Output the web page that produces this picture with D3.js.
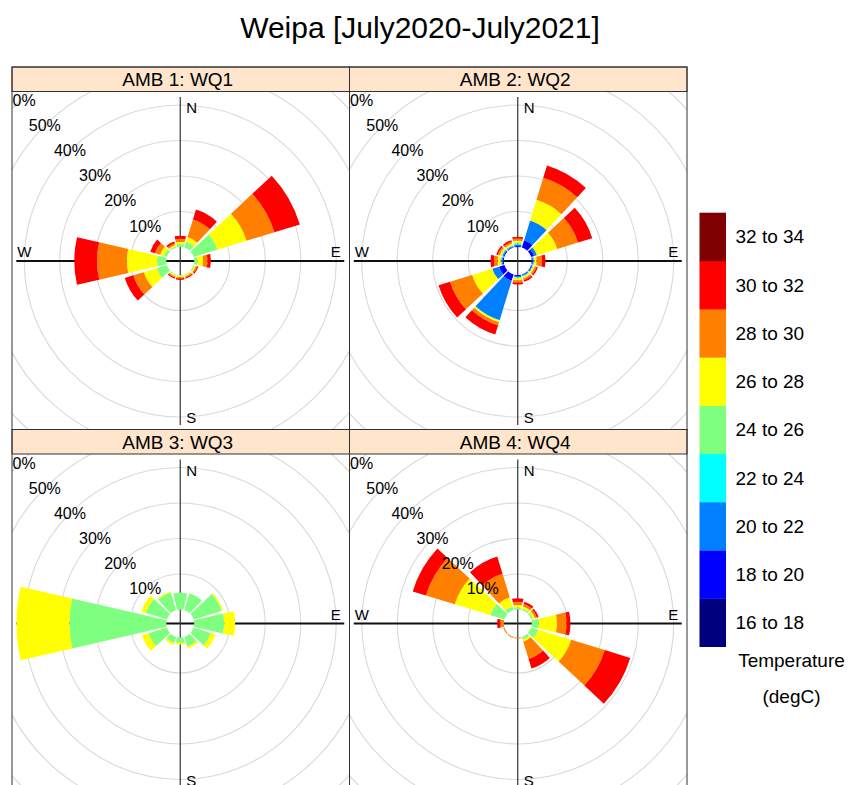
<!DOCTYPE html>
<html><head><meta charset="utf-8">
<script src="https://cdn.jsdelivr.net/npm/d3@7/dist/d3.min.js"></script>
<style>
body{margin:0;background:#fff}
svg{display:block;font-family:"Liberation Sans",Arial,Helvetica,sans-serif}
</style>
</head><body>
<svg id="chart" width="850" height="785"></svg>
<script>
// ---------- data ----------
const chartTitle = "Weipa [July2020-July2021]";
const panelNames = ["AMB 1: WQ1", "AMB 2: WQ2", "AMB 3: WQ3", "AMB 4: WQ4"];
const directions = [0, 30, 60, 90, 120, 150, 180, 210, 240, 270, 300, 330];
const compassLabels = ["N", "E", "S", "W"];
const classLabels = ["16 to 18", "18 to 20", "20 to 22", "22 to 24", "24 to 26", "26 to 28", "28 to 30", "30 to 32", "32 to 34"];
const classColors = ["#00007F", "#0000FF", "#007FFF", "#00FFFF", "#7FFF7F", "#FFFF00", "#FF7F00", "#FF0000", "#7F0000"];
const ringTicks = [10, 20, 30, 40, 50, 60, 70];
const legendTitle = ["Temperature", "(degC)"];

// frequency (%) per direction, per temperature class (16-18 ... 32-34)
const wq1 = [
  [0, 0, 0, 0, 0.85, 0.65, 0.8, 0.9, 0],
  [0, 0, 0, 0, 1.75, 1.35, 5.2, 2.9, 0],
  [0, 0, 0, 0, 7.0, 8.6, 8.2, 7.5, 0],
  [0, 0, 0, 0, 0.85, 1.65, 1.25, 0.95, 0],
  [0, 0, 0, 0, 0.3, 0.4, 0.35, 0.35, 0],
  [0, 0, 0, 0, 0.25, 0.35, 0.35, 0.35, 0],
  [0, 0, 0, 0, 0.25, 0.4, 0.35, 0.4, 0],
  [0, 0, 0, 0, 0.25, 0.35, 0.35, 0.35, 0],
  [0, 0, 0, 0, 3.0, 3.8, 3.1, 2.5, 0],
  [0, 0, 0, 0, 2.6, 8.5, 8.4, 6.4, 0],
  [0, 0, 0, 0, 0.8, 1.2, 1.5, 1.4, 0],
  [0, 0, 0, 0, 0.35, 0.45, 0.45, 0.55, 0]
];
const wq2 = [
  [0, 0.3, 0.4, 0.2, 0.4, 0.5, 0.6, 0.5, 0],
  [0, 2.2, 5.8, 0, 0, 6.1, 6.5, 3.6, 0],
  [0, 0.85, 0.85, 0, 0, 6.0, 6.1, 4.2, 0],
  [0, 0.3, 0.3, 0, 0.2, 0.6, 1.5, 1.0, 0],
  [0, 0.2, 0.3, 0, 0.2, 0.4, 0.5, 0.4, 0],
  [0, 0.2, 0.3, 0.1, 0.2, 0.4, 0.5, 0.5, 0],
  [0, 0.3, 0.4, 0, 0.3, 0.5, 0.6, 0.6, 0],
  [0, 1.9, 11.6, 0, 0.2, 0.4, 0.9, 2.7, 0],
  [0, 1.6, 2.0, 0, 0, 5.9, 6.5, 3.4, 0],
  [0, 0.3, 0.4, 0, 0.3, 0.75, 1.0, 1.0, 0],
  [0, 0.3, 0.3, 0.1, 0.3, 0.4, 0.5, 0.5, 0],
  [0, 0.2, 0.3, 0, 0.3, 0.4, 0.5, 0.5, 0]
];
const wq3 = [
  [0, 0, 0, 0, 4.7, 0, 0, 0, 0],
  [0, 0, 0, 0, 5.0, 0, 0, 0, 0],
  [0, 0, 0, 0, 8.2, 0.4, 0, 0, 0],
  [0, 0, 0, 0, 8.45, 3.05, 0, 0, 0],
  [0, 0, 0, 0, 5.1, 1.3, 0, 0, 0],
  [0, 0, 0, 0, 2.8, 0.6, 0, 0, 0],
  [0, 0, 0, 0, 1.5, 0.5, 0, 0, 0],
  [0, 0, 0, 0, 1.7, 0.6, 0, 0, 0],
  [0, 0, 0, 0, 5.4, 1.9, 0, 0, 0],
  [0, 0, 0, 0, 27.3, 14.9, 0, 0, 0],
  [0, 0, 0, 0, 6.2, 1.3, 0, 0, 0],
  [0, 0, 0, 0, 5.2, 0.3, 0, 0, 0]
];
const wq4 = [
  [0, 0, 0, 0, 0.6, 0.7, 0.9, 1.0, 0],
  [0, 0, 0, 0, 0.5, 0.6, 0.7, 0.7, 0],
  [0, 0, 0, 0, 0.5, 0.6, 0.6, 0.5, 0],
  [0, 0, 0, 0, 2.0, 5.1, 2.7, 1.1, 0],
  [0, 0, 0, 0, 2.1, 9.7, 9.9, 7.5, 0],
  [0, 0, 0, 0, 0.85, 0.55, 5.1, 2.8, 0],
  [0, 0, 0, 0, 0, 0, 0.3, 0, 0],
  [0, 0, 0, 0, 0, 0, 0.3, 0, 0],
  [0, 0, 0, 0, 0, 0, 0.3, 0, 0],
  [0, 0, 0, 0, 0, 0, 1.0, 0.9, 0],
  [0, 0, 0, 0, 4.2, 10.4, 8.5, 3.9, 0],
  [0, 0, 0, 0, 1.1, 2.7, 6.9, 5.1, 0]
];
const panelData = [wq1, wq2, wq3, wq4];

// ---------- layout ----------
const svg = d3.select("#chart");
const panelW = 337.5, panelH = 362.5, stripH = 24.5;
const left0 = 12, top0 = 67;
const rScale = d3.scaleLinear().domain([0, 60]).range([14, 227]);
const axisHalf = 164;
const halfWedge = 13;
const toRad = d => d * Math.PI / 180;

svg.append("text")
  .attr("x", 420).attr("y", 38)
  .attr("text-anchor", "middle")
  .attr("font-size", 30)
  .attr("fill", "#000")
  .text(chartTitle);

const defs = svg.append("defs");
const arc = d3.arc();

panelNames.forEach((name, p) => {
  const col = p % 2, row = Math.floor(p / 2);
  const x0 = left0 + col * panelW;
  const y0 = top0 + row * panelH;
  const plotTop = y0 + stripH;
  const plotH = panelH - stripH;
  const cx = x0 + panelW / 2 - 0.5;
  const cy = plotTop + plotH / 2 + 0.5;

  defs.append("clipPath").attr("id", "clip" + p)
    .append("rect").attr("x", x0).attr("y", plotTop).attr("width", panelW).attr("height", plotH);

  const g = svg.append("g").attr("clip-path", `url(#clip${p})`);

  // grid rings
  g.selectAll("circle.ring").data(ringTicks).join("circle")
    .attr("class", "ring")
    .attr("cx", cx).attr("cy", cy)
    .attr("r", d => rScale(d))
    .attr("fill", "none").attr("stroke", "#D9D9D9").attr("stroke-width", 1.1);

  // axis lines
  g.append("line").attr("x1", cx - axisHalf).attr("x2", cx + axisHalf)
    .attr("y1", cy).attr("y2", cy).attr("stroke", "#111").attr("stroke-width", 1.8);
  g.append("line").attr("x1", cx).attr("x2", cx)
    .attr("y1", cy - axisHalf).attr("y2", cy + axisHalf).attr("stroke", "#333").attr("stroke-width", 1.2);

  // compass labels
  const compassPos = {
    N: {x: cx + 6, y: cy - 148, a: "start"},
    E: {x: cx + 160.5, y: cy - 4, a: "end"},
    S: {x: cx + 6, y: cy + 162, a: "start"},
    W: {x: cx - 163, y: cy - 4, a: "start"}
  };
  compassLabels.forEach(l => {
    g.append("text").attr("x", compassPos[l].x).attr("y", compassPos[l].y)
      .attr("text-anchor", compassPos[l].a).attr("font-size", 15).attr("fill", "#000").text(l);
  });

  // wedges
  const data = panelData[p];
  directions.forEach((dir, i) => {
    let cum = 0;
    data[i].forEach((v, k) => {
      if (v <= 0) return;
      g.append("path")
        .attr("transform", `translate(${cx},${cy})`)
        .attr("d", arc({
          innerRadius: rScale(cum), outerRadius: rScale(cum + v),
          startAngle: toRad(dir - halfWedge), endAngle: toRad(dir + halfWedge)
        }))
        .attr("fill", classColors[k]);
      cum += v;
    });
  });

  // percentage labels along 315 degrees
  g.selectAll("text.pct").data(ringTicks).join("text")
    .attr("class", "pct")
    .attr("x", d => cx + rScale(d) * Math.sin(toRad(315)))
    .attr("y", d => cy - rScale(d) * Math.cos(toRad(315)))
    .attr("dy", "0.35em")
    .attr("text-anchor", "middle").attr("font-size", 16).attr("fill", "#000")
    .text(d => d + "%");

  // strip
  svg.append("rect").attr("x", x0).attr("y", y0).attr("width", panelW).attr("height", stripH)
    .attr("fill", "#FFE5CC").attr("stroke", "#333").attr("stroke-width", 1);
  svg.append("text").attr("x", x0 + panelW / 2 - 3).attr("y", y0 + stripH / 2)
    .attr("dy", "0.36em").attr("text-anchor", "middle").attr("font-size", 19).attr("fill", "#000")
    .text(name);
  // panel frame
  svg.append("rect").attr("x", x0).attr("y", y0).attr("width", panelW).attr("height", panelH)
    .attr("fill", "none").attr("stroke", "#333").attr("stroke-width", 1);
});

// ---------- legend ----------
const legY = d3.scaleBand().domain(classLabels.slice().reverse()).range([212.7, 646.7]);
const legX = 699.5, legW = 26.5;
svg.selectAll("rect.leg").data(classLabels).join("rect")
  .attr("class", "leg")
  .attr("x", legX).attr("y", d => legY(d))
  .attr("width", legW).attr("height", legY.bandwidth() + 0.3)
  .attr("fill", (d, i) => classColors[i]);
svg.selectAll("text.leg").data(classLabels).join("text")
  .attr("class", "leg")
  .attr("x", 735.5).attr("y", d => legY(d) + legY.bandwidth() / 2)
  .attr("dy", "0.35em").attr("font-size", 19).attr("fill", "#000")
  .text(d => d);
svg.selectAll("text.legt").data(legendTitle).join("text")
  .attr("class", "legt")
  .attr("x", 791.5).attr("y", (d, i) => 667 + i * 36)
  .attr("text-anchor", "middle").attr("font-size", 19).attr("fill", "#000")
  .text(d => d);
</script>
</body></html>
